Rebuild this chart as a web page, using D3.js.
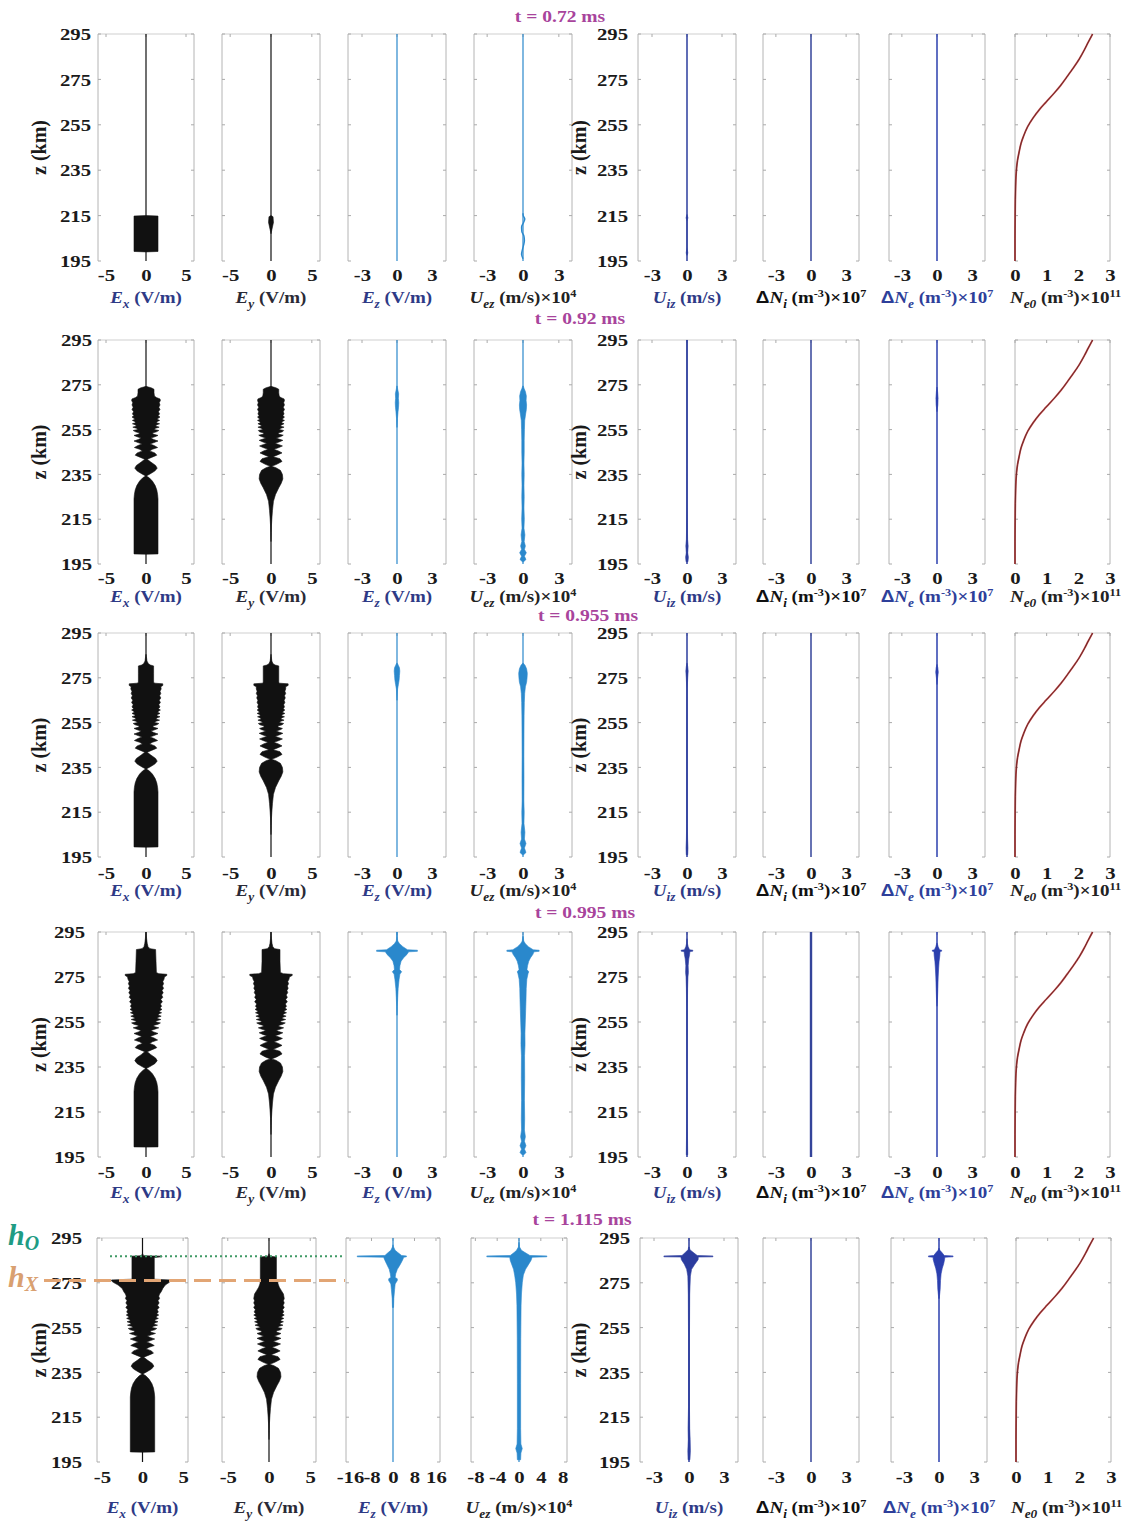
<!DOCTYPE html>
<html>
<head>
<meta charset="utf-8">
<script src="https://cdn.jsdelivr.net/npm/d3@7"></script>
<style>
  body { margin: 0; background: #fff; }
  svg { display: block; }
  text { font-family: "Liberation Serif", "Times New Roman", serif; font-weight: bold; }
</style>
</head>
<body>
<svg id="fig" width="1132" height="1521"></svg>
<script>
// ---------------------------------------------------------------
// Altitude profiles of the wave fields and plasma response at five
// snapshot times.  Envelopes are [z (km), amplitude] (symmetric)
// or [z (km), low, high] (asymmetric).
// ---------------------------------------------------------------
const zTicks = [195, 215, 235, 255, 275, 295];
const zRange = [195, 295];
const snapshotTimes = ["t = 0.72 ms", "t = 0.92 ms", "t = 0.955 ms", "t = 0.995 ms", "t = 1.115 ms"];
const fieldTicks = [-5, 0, 5];
const smallTicks = [-3, 0, 3];
const ezTicksLate = [-16, -8, 0, 8, 16];
const uezTicksLate = [-8, -4, 0, 4, 8];
const ne0Ticks = [0, 1, 2, 3];
const hO = 286.8;   // O-mode reflection height (km)
const hX = 276;     // X-mode reflection height (km)

// background electron density, 10^11 m^-3
const ne0Profile = [[195,0.0],[205,0.0],[215,0.005],[222,0.01],[228,0.02],[232,0.03],[236,0.05],[239.4,0.08],[243,0.13],[246.8,0.19],[250,0.27],[254.2,0.40],[258,0.57],[261.7,0.77],[265,0.98],[269,1.24],[272.5,1.45],[276.5,1.66],[280,1.84],[284,2.03],[288,2.19],[291.3,2.31],[295,2.45]];

// ---- Ex envelope (V/m) ----
const exRow1 = [[199,0],[199.2,1.5],[214.8,1.5],[215,0]];
const exTail = [[199.4,0],[199.5,1.5],[224,1.5],[226,1.45],[228,1.35],[230,1.15],[232,0.8],[233.5,0.4],[234.3,0.04],[235.2,0.5],[236.5,1.1],[237.8,1.4],[239,1.2],[240.5,0.6],[241.8,0.15],[242.6,0.7],[243.6,1.35],[244.6,1.1],[245.5,0.45],[246.2,0.8],[247,1.45],[247.9,1.0],[248.6,0.5],[249.2,1.0],[249.9,1.5],[250.6,0.95],[251.2,0.6],[251.8,1.1]];
const exHead2 = [[252.4,1.5],[253,0.9],[253.5,0.8],[254,1.3],[254.6,1.6],[255.1,1.0],[255.6,1.2],[256.1,1.65],[256.6,1.2],[257.1,1.3],[257.6,1.7],[258.1,1.3],[258.6,1.4],[259.1,1.7],[259.6,1.4],[260.1,1.5],[260.6,1.75],[261.2,1.5],[262,1.7],[263,1.55],[264,1.75],[265,1.6],[266,1.75],[267,1.65],[268,1.8],[268.7,1.75],[269.3,1.3],[270,1.05],[271.5,1.0],[273,1.0],[273.6,0.7],[274,0.3],[274.3,0]];
const exHead3 = [[252.4,1.5],[253,0.9],[253.5,0.85],[254,1.35],[254.6,1.6],[255.1,1.05],[255.6,1.25],[256.1,1.7],[256.6,1.25],[257.1,1.35],[257.6,1.75],[258.1,1.35],[258.6,1.45],[259.1,1.75],[259.6,1.45],[260.1,1.55],[260.6,1.8],[261.2,1.55],[262,1.75],[263,1.6],[264,1.8],[265,1.65],[266,1.85],[267,1.7],[268,1.85],[269,1.75],[270,1.9],[271,1.85],[271.6,2.1],[272.3,2.1],[272.6,1.1],[273,0.95],[277,0.95],[280.3,0.95],[280.7,0.55],[281.3,0.3],[282.5,0.12],[284.5,0.05],[285.5,0]];
const exHead4 = [[252.4,1.6],[253,1.0],[253.5,0.95],[254,1.5],[254.6,1.8],[255.1,1.2],[255.6,1.35],[256.1,1.85],[256.6,1.4],[257.1,1.5],[257.6,1.9],[258.1,1.5],[258.6,1.6],[259.1,1.95],[259.6,1.65],[260.1,1.75],[260.6,2.0],[261.2,1.75],[262,1.95],[263,1.8],[264,2.05],[265,1.85],[266,2.1],[267,1.95],[268,2.15],[269,2.0],[270,2.2],[271,2.05],[272,2.2],[273,2.1],[274,2.25],[275,2.3],[275.7,2.6],[276.2,2.6],[276.5,1.6],[277,1.3],[282,1.25],[287.2,1.2],[287.6,0.5],[288.5,0.25],[290,0.15],[292,0.08],[294,0.03],[295,0]];
const exHead5 = [[252.4,1.6],[253,1.0],[253.5,0.95],[254,1.5],[254.6,1.75],[255.1,1.15],[255.6,1.35],[256.1,1.85],[256.6,1.4],[257.1,1.5],[257.6,1.9],[258.1,1.5],[258.6,1.6],[259.1,1.95],[259.6,1.65],[260.1,1.75],[260.6,2.0],[261.2,1.75],[262,1.95],[263,1.8],[264,2.05],[265,1.85],[266,2.05],[267,1.9],[268,2.1],[269,2.0],[270,2.1],[271,-2.3,2.3],[272.5,-2.5,2.5],[274,-3.0,2.8],[275.2,-3.6,3.3],[275.8,-3.8,3.4],[276.3,-3.8,3.4],[276.6,-1.3,1.45],[286.3,-1.3,1.45],[286.6,-1.3,2.4],[286.9,-1.3,2.4],[287.1,-0.15,0.15],[288,0]];

// ---- Ey envelope (V/m) ----
const eyRow1 = [[207,0],[209,0.12],[212,0.3],[214.5,0.25],[215,0]];
const eyTail = [[205,0],[209,0.03],[212,0.05],[215,0.1],[219,0.18],[223,0.3],[226,0.55],[229,0.95],[231,1.25],[233,1.45],[235,1.4],[236.8,1.15],[238,0.6],[238.6,0.08],[239.5,0.7],[240.8,1.35],[242,1.1],[242.9,0.25],[243.7,0.8],[244.6,1.35],[245.5,0.9],[246.2,0.35],[246.9,0.9],[247.7,1.4],[248.4,0.9],[248.9,0.5],[249.5,1.0],[250.2,1.45],[250.8,0.95],[251.3,0.65],[251.9,1.2]];
const eyHead2 = [[252.5,1.5],[253,0.9],[253.5,0.9],[254,1.4],[254.6,1.55],[255.1,1.0],[255.6,1.2],[256.1,1.6],[256.6,1.15],[257.1,1.3],[257.6,1.6],[258.1,1.3],[258.6,1.4],[259.1,1.65],[259.6,1.35],[260.1,1.5],[260.6,1.65],[261.2,1.45],[262,1.6],[263,1.5],[264,1.65],[265,1.5],[266,1.65],[267,1.55],[268,1.65],[268.7,1.6],[269.3,1.2],[270,1.0],[271.5,0.95],[273,0.95],[273.6,0.65],[274,0.3],[274.3,0]];
const eyHead3 = [[252.4,1.4],[253,0.85],[253.5,0.85],[254,1.35],[254.6,1.55],[255.1,1.0],[255.6,1.2],[256.1,1.6],[256.6,1.2],[257.1,1.3],[257.6,1.65],[258.1,1.3],[258.6,1.4],[259.1,1.7],[259.6,1.4],[260.1,1.5],[260.6,1.7],[261.2,1.5],[262,1.65],[263,1.55],[264,1.7],[265,1.6],[266,1.75],[267,1.65],[268,1.8],[269,1.7],[270,1.8],[271,1.8],[271.6,2.1],[272.3,2.1],[272.6,1.05],[273,0.95],[280.3,0.95],[280.7,0.5],[281.3,0.25],[282.5,0.1],[284.5,0.04],[285.5,0]];
const eyHead4 = [[252.4,1.55],[253,0.95],[253.5,0.95],[254,1.45],[254.6,1.75],[255.1,1.1],[255.6,1.3],[256.1,1.8],[256.6,1.35],[257.1,1.45],[257.6,1.85],[258.1,1.45],[258.6,1.55],[259.1,1.9],[259.6,1.6],[260.1,1.7],[260.6,1.95],[261.2,1.7],[262,1.9],[263,1.75],[264,2.0],[265,1.8],[266,2.0],[267,1.85],[268,2.05],[269,1.95],[270,2.1],[271,2.0],[272,2.15],[273,2.05],[274,2.2],[275,2.25],[275.7,2.6],[276.2,2.6],[276.5,1.5],[277,1.15],[282,1.1],[287.2,1.1],[287.6,0.45],[288.5,0.22],[290,0.12],[292,0.06],[294,0.02],[295,0]];
const eyHead5 = [[252.4,1.45],[253,0.9],[253.5,0.9],[254,1.4],[254.6,1.6],[255.1,1.05],[255.6,1.25],[256.1,1.7],[256.6,1.3],[257.1,1.4],[257.6,1.75],[258.1,1.4],[258.6,1.5],[259.1,1.8],[259.6,1.5],[260.1,1.6],[260.6,1.85],[261.2,1.6],[262,1.8],[263,1.65],[264,1.85],[265,1.7],[266,1.85],[267,1.75],[268,1.85],[269,1.8],[270,1.75],[271.5,1.5],[273,1.25],[274.5,1.1],[275.8,1.05],[276.3,-1.05,0.9],[286.5,-1.05,0.9],[286.9,-0.12,0.12],[288,0]];

// ---- Ez envelope (V/m) ----
const ezRow2 = [[256,0.01],[260,0.04],[263,0.09],[265,0.13],[267,0.15],[269,0.12],[271,0.14],[273,0.06],[274.5,0.01]];
const ezRow3 = [[265,0.01],[270,0.05],[272,0.12],[274,0.18],[276,0.21],[278,0.24],[279.5,0.21],[280.5,0.12],[281.5,0.03]];
const ezRow4 = [[258,0.01],[262,0.03],[266,0.06],[270,0.1],[274,0.18],[276.3,0.25],[277.3,0.4],[278.3,0.22],[280,0.25],[282,0.35],[283.5,0.55],[285,0.85],[286.2,1.0],[286.4,1.75],[286.9,1.75],[287.1,0.9],[288.5,0.5],[289.8,0.22],[291,0.06],[293,0.02],[295,0.01]];
const ezRow5 = [[264,-0.2,0.2],[268,-0.3,0.3],[272,-0.6,0.6],[274.5,-0.8,0.8],[276,-1.6,1.6],[276.8,-1.6,1.6],[277.4,-0.8,0.8],[279,-1.0,1.0],[281,-1.4,1.6],[283,-2.2,2.6],[285,-3.0,3.5],[286.4,-3.5,4.0],[286.6,-13.3,5.0],[287,-13.3,5.0],[287.2,-3.0,3.2],[288.5,-1.8,1.8],[289.5,-0.8,0.8],[291,-0.2,0.2],[292,0,0]];

// ---- electron velocity Uez (10^4 m/s) ----
const uezRow1 = [[196,0],[198,-0.12],[200,-0.05],[202,0.05],[204,0.12],[206,0.08],[208,-0.1],[210,-0.12],[212,0.05],[213.5,0.15],[215,0.02],[216,0]];
const uezRow2 = [[196,0.05],[197,0.25],[198.5,0.12],[200,0.28],[201.5,0.12],[203,0.2],[205,0.1],[208,0.16],[211,0.08],[215,0.11],[220,0.08],[225,0.1],[230,0.08],[235,0.1],[240,0.08],[245,0.1],[250,0.1],[255,0.12],[259,0.14],[262,0.22],[264,0.28],[266,0.3],[268,0.26],[270,0.28],[272,0.2],[273.5,0.08],[274.5,0.02]];
const uezRow3 = [[196,0.05],[197,0.25],[199,0.12],[201,0.25],[203,0.12],[206,0.16],[210,0.08],[215,0.1],[220,0.07],[230,0.08],[240,0.07],[250,0.08],[258,0.09],[264,0.11],[268,0.14],[271,0.2],[273,0.3],[275,0.34],[277,0.36],[279,0.3],[280.5,0.18],[281.5,0.03]];
const uezRow4 = [[196,0.08],[197,0.25],[198.5,0.12],[200,0.25],[202,0.12],[204,0.2],[207,0.12],[212,0.14],[220,0.12],[230,0.14],[240,0.13],[245,0.17],[250,0.16],[255,0.19],[260,0.22],[265,0.25],[270,0.27],[274,0.32],[276.5,0.42],[277.3,0.48],[278.3,0.33],[280,0.38],[282,0.48],[283.5,0.62],[285,0.82],[286.2,0.92],[286.4,1.35],[286.9,1.35],[287.1,0.85],[288.5,0.45],[289.8,0.2],[291,0.06],[293,0.02]];
const uezRow5 = [[196,-0.3,0.3],[199,-0.35,0.35],[201,-0.6,0.6],[203,-0.35,0.35],[210,-0.3,0.3],[230,-0.3,0.3],[250,-0.32,0.32],[265,-0.38,0.38],[270,-0.45,0.45],[275,-0.6,0.6],[278.5,-0.8,0.8],[281,-1.0,1.2],[283,-1.3,1.7],[285,-1.6,2.2],[286.4,-1.7,2.4],[286.6,-5.9,5.1],[287,-5.9,5.1],[287.2,-1.6,2.0],[288.5,-0.9,1.1],[289.5,-0.45,0.45],[291,-0.1,0.1],[293,-0.03,0.03]];

// ---- ion velocity Uiz (m/s) ----
const uizRow1 = [[197.5,0],[198.5,0.07],[200,0.03],[201,0],[212.5,0],[214,0.08],[215.5,0]];
const uizRow2 = [[196,0.08],[198,0.12],[200,0.06],[203,0.1],[206,0.05],[210,0.04],[220,0.02],[240,0.01],[295,0.01]];
const uizRow3 = [[196,0.06],[199,0.08],[203,0.05],[210,0.03],[270,0.02],[275,0.06],[278,0.1],[280,0.06],[281.5,0.01]];
const uizRow4 = [[196,0.06],[200,0.05],[210,0.03],[230,0.02],[260,0.03],[270,0.05],[275,0.08],[277,0.12],[280,0.1],[283,0.15],[285,0.22],[286.3,0.25],[286.5,0.5],[286.9,0.5],[287.1,0.22],[288.5,0.1],[290,0.03],[292,0.01]];
const uizRow5 = [[196,-0.08,0.08],[200,-0.1,0.12],[205,-0.06,0.1],[210,-0.08,0.06],[220,-0.04,0.04],[250,-0.04,0.04],[270,-0.06,0.06],[278,-0.1,0.12],[281,-0.2,0.22],[283.3,-0.4,0.5],[285.3,-0.65,0.78],[286.5,-0.7,0.8],[286.6,-2.15,2.05],[287,-2.15,2.05],[287.2,-0.6,0.7],[288.6,-0.3,0.35],[289.8,-0.08,0.08],[291,-0.02,0.02]];

// ---- electron density perturbation (10^7 m^-3) ----
const dneRow2 = [[263,0],[266,0.07],[269,0.09],[272,0.05],[274,0]];
const dneRow3 = [[272,0],[275,0.05],[277.5,0.11],[279.5,0.07],[281,0]];
const dneRow4 = [[262,0],[265,0.04],[270,0.07],[275,0.1],[279,0.14],[282,0.18],[284.5,0.24],[286.3,0.26],[286.5,0.4],[286.9,0.4],[287.1,0.22],[288.5,0.1],[290,0.02]];
const dneRow5 = [[268,-0.02,0.02],[272,-0.1,0.1],[276,-0.13,0.13],[279,-0.18,0.18],[281.5,-0.28,0.28],[283.5,-0.4,0.4],[285.5,-0.5,0.48],[286.4,-0.5,0.5],[286.6,-0.9,1.2],[287,-0.9,1.2],[287.2,-0.45,0.45],[288.5,-0.25,0.25],[289.5,-0.08,0.08],[290.5,0,0]];

const exProfiles = [exRow1, exTail.concat(exHead2), exTail.concat(exHead3), exTail.concat(exHead4), exTail.concat(exHead5)];
const eyProfiles = [eyRow1, eyTail.concat(eyHead2), eyTail.concat(eyHead3), eyTail.concat(eyHead4), eyTail.concat(eyHead5)];
const ezProfiles = [[], ezRow2, ezRow3, ezRow4, ezRow5];
const uezProfiles = [[], uezRow2, uezRow3, uezRow4, uezRow5];
const uizProfiles = [uizRow1, uizRow2, uizRow3, uizRow4, uizRow5];
const dniProfiles = [[], [], [], [], []];
const dneProfiles = [[], dneRow2, dneRow3, dneRow4, dneRow5];

// ---------------------------------------------------------------
// layout
// ---------------------------------------------------------------
const svg = d3.select("#fig");
const rowTop = [34, 340, 633, 932, 1238];
const rowBot = [261, 564, 857, 1157, 1462];
const tickDy = [20, 20, 22, 21, 21];
const labelDy = [42, 38, 39, 41, 51];
const titleY = [22, 324, 621, 918, 1225];
const titleX = [560, 580, 588, 585, 582];
const leftPad = [7, 6, 6, 13, 15];

const boxesEarly = [[98,194],[222,320],[348,446],[474,572],[638,736],[763,859],[889,985],[1015,1110]];
const boxesLate  = [[97,188],[222,316],[346,440],[471,567],[640,738],[763,859],[891,987],[1016,1111]];
const domEarly = [[-6,6],[-6,6],[-4.2,4.2],[-4.1,4.1],[-4.2,4.2],[-4.1,4.1],[-4.1,4.1],[0,3]];
const domLate  = [[-5.6,5.6],[-5.7,5.7],[-17.5,17.5],[-8.8,8.8],[-4.2,4.2],[-4.1,4.1],[-4.1,4.1],[0,3]];

const traceColor = ["#111", "#111", "#2a88cc", "#2a88cc", "#2b3c9e", "#34449a", "#2b3fae", "#9c3535"];
const labelColor = ["#2e3a86", "#2a2a36", "#2e3a86", "#222", "#2e3a86", "#111", "#2e3f9a", "#222"];

const axisTitles = [
  [{t:"E",it:1},{t:"x",it:1,sub:1},{t:" (V/m)"}],
  [{t:"E",it:1},{t:"y",it:1,sub:1},{t:" (V/m)"}],
  [{t:"E",it:1},{t:"z",it:1,sub:1},{t:" (V/m)"}],
  [{t:"U",it:1},{t:"ez",it:1,sub:1},{t:" (m/s)×10"},{t:"4",sup:1}],
  [{t:"U",it:1},{t:"iz",it:1,sub:1},{t:" (m/s)"}],
  [{t:"Δ",sans:1},{t:"N",it:1},{t:"i",it:1,sub:1},{t:" (m"},{t:"-3",sup:1},{t:")×10"},{t:"7",sup:1}],
  [{t:"Δ",sans:1},{t:"N",it:1},{t:"e",it:1,sub:1},{t:" (m"},{t:"-3",sup:1},{t:")×10"},{t:"7",sup:1}],
  [{t:"N",it:1},{t:"e0",it:1,sub:1},{t:" (m"},{t:"-3",sup:1},{t:")×10"},{t:"11",sup:1}]
];

const TICK_FS = 17, TICK_SX = 1.22;
const LAB_FS = 17, LAB_SX = 1.12;

function richText(sel, parts, size) {
  let shift = 0;
  parts.forEach(p => {
    let target = 0, fs = size;
    if (p.sub) { target = size * 0.3; fs = size * 0.7; }
    if (p.sup) { target = -size * 0.36; fs = size * 0.64; }
    const ts = sel.append("tspan").text(p.t)
      .attr("dy", (target - shift).toFixed(2))
      .attr("font-size", fs.toFixed(1));
    if (p.it) ts.attr("font-style", "italic");
    if (p.sans) ts.attr("font-family", "'Liberation Sans', Arial, sans-serif");
    shift = target;
  });
}

const lowOf = d => d.length > 2 ? d[1] : -d[1];
const highOf = d => d.length > 2 ? d[2] : d[1];

function drawRow(r) {
  const boxes = r === 4 ? boxesLate : boxesEarly;
  const doms = r === 4 ? domLate : domEarly;
  const y = d3.scaleLinear().domain(zRange).range([rowBot[r], rowTop[r]]);
  const row = svg.append("g").attr("class", "row");

  const profiles = [exProfiles[r], eyProfiles[r], ezProfiles[r], uezProfiles[r], uizProfiles[r], dniProfiles[r], dneProfiles[r]];

  for (let p = 0; p < 8; p++) {
    const [x0, x1] = boxes[p];
    const x = d3.scaleLinear().domain(doms[p]).range([x0, x1]);
    const g = row.append("g");

    // frame: top, left and right edges
    g.append("line").attr("x1", x0).attr("x2", x1).attr("y1", y(295)).attr("y2", y(295))
      .attr("stroke", "#cfcfcf").attr("stroke-width", 1);
    [x0, x1].forEach(xx => g.append("line").attr("x1", xx).attr("x2", xx)
      .attr("y1", y(295)).attr("y2", y(195)).attr("stroke", "#b4b4b4").attr("stroke-width", 1));
    // small inner ticks
    zTicks.forEach(t => {
      g.append("line").attr("x1", x0).attr("x2", x0 + 3).attr("y1", y(t)).attr("y2", y(t)).attr("stroke", "#aaa");
      g.append("line").attr("x1", x1 - 3).attr("x2", x1).attr("y1", y(t)).attr("y2", y(t)).attr("stroke", "#aaa");
    });

    let ticks = (p < 2) ? fieldTicks : (p === 7 ? ne0Ticks : smallTicks);
    if (r === 4 && p === 2) ticks = ezTicksLate;
    if (r === 4 && p === 3) ticks = uezTicksLate;

    // x axis (tick labels only)
    const ax = g.append("g").attr("transform", `translate(0,${rowBot[r] + tickDy[r]})`)
      .call(d3.axisBottom(x).tickValues(ticks).tickSize(0).tickPadding(0).tickFormat(d => String(d)));
    ax.select(".domain").remove();
    ax.selectAll("text").attr("dy", null).attr("y", 0)
      .attr("font-size", TICK_FS).attr("font-family", null).attr("fill", "#1a1a1a")
      .attr("transform", `scale(${TICK_SX},1)`);
    ticks.forEach(t => g.append("line").attr("x1", x(t)).attr("x2", x(t))
      .attr("y1", y(295)).attr("y2", y(295) + 3).attr("stroke", "#aaa"));

    // axis title
    const lt = g.append("text")
      .attr("transform", `translate(${(x0 + x1) / 2 + (p === 7 ? 3 : 0)},${rowBot[r] + labelDy[r]}) scale(${LAB_SX},1)`)
      .attr("text-anchor", "middle").attr("fill", labelColor[p]).attr("font-size", LAB_FS);
    richText(lt, axisTitles[p], LAB_FS);

    if (p === 7) {
      g.append("path").datum(ne0Profile)
        .attr("fill", "none").attr("stroke", "#c04848").attr("stroke-width", 1.8)
        .attr("d", d3.line().x(d => x(d[1])).y(d => y(d[0])).curve(d3.curveMonotoneY));
      g.append("path").datum(ne0Profile)
        .attr("fill", "none").attr("stroke", "#4a1e1e").attr("stroke-width", 0.7)
        .attr("d", d3.line().x(d => x(d[1])).y(d => y(d[0])).curve(d3.curveMonotoneY));
      continue;
    }

    const col = traceColor[p];
    // zero trace over the full altitude span
    g.append("line").attr("x1", x(0)).attr("x2", x(0)).attr("y1", y(zRange[0])).attr("y2", y(zRange[1]))
      .attr("stroke", col).attr("stroke-width", (p === 5 && r === 3) ? 2.4 : (p >= 4 ? 1.5 : 1.2));

    const env = profiles[p];
    if (env.length) {
      const area = d3.area().y(d => y(d[0])).x0(d => x(lowOf(d))).x1(d => x(highOf(d)));
      g.append("path").datum(env).attr("d", area)
        .attr("fill", col).attr("stroke", col).attr("stroke-width", 0.6).attr("stroke-linejoin", "round");
    }
    if (r === 0 && p === 3) {
      g.append("path").datum(uezRow1).attr("fill", "none").attr("stroke", col).attr("stroke-width", 1.4)
        .attr("d", d3.line().x(d => x(d[1])).y(d => y(d[0])).curve(d3.curveMonotoneY));
    }
  }

  // altitude axes (left panel and Uiz panel)
  [[0, leftPad[r]], [4, 10]].forEach(([p, pad]) => {
    const x0 = boxes[p][0];
    const ay = row.append("g").attr("transform", `translate(${x0},0)`)
      .call(d3.axisLeft(y).tickValues(zTicks).tickSize(0).tickPadding(0).tickFormat(d => String(d)));
    ay.select(".domain").remove();
    ay.selectAll("text").attr("x", 0).attr("dy", "0.34em")
      .attr("font-size", TICK_FS).attr("font-family", null).attr("fill", "#1a1a1a")
      .attr("transform", `translate(${-pad},0) scale(${TICK_SX},1)`);
  });
  [46, 586].forEach(bx => {
    row.append("text").attr("transform", `translate(${bx},${(rowTop[r] + rowBot[r]) / 2}) rotate(-90)`)
      .attr("text-anchor", "middle").attr("font-size", 20).attr("fill", "#1a1a1a").text("z (km)");
  });

  // snapshot time
  row.append("text").attr("transform", `translate(${titleX[r]},${titleY[r]}) scale(1.15,1)`)
    .attr("text-anchor", "middle").attr("font-size", 17).attr("fill", "#a8449c").text(snapshotTimes[r]);

  // reflection heights in the last snapshot
  if (r === 4) {
    row.append("line").attr("x1", 110).attr("x2", 345).attr("y1", y(hO)).attr("y2", y(hO))
      .attr("stroke", "#3f9a66").attr("stroke-width", 2).attr("stroke-dasharray", "2,3");
    row.append("line").attr("x1", 44).attr("x2", 345).attr("y1", y(hX)).attr("y2", y(hX))
      .attr("stroke", "#e2a574").attr("stroke-width", 3).attr("stroke-dasharray", "17,8");
    const lO = row.append("text").attr("x", 8).attr("y", y(hO) - 11).attr("font-size", 30)
      .attr("font-style", "italic").attr("fill", "#1f9c84");
    lO.append("tspan").text("h");
    lO.append("tspan").text("O").attr("font-size", 20).attr("dy", 5);
    const lX = row.append("text").attr("x", 8).attr("y", y(hX) + 6).attr("font-size", 30)
      .attr("font-style", "italic").attr("fill", "#d9a070");
    lX.append("tspan").text("h");
    lX.append("tspan").text("X").attr("font-size", 20).attr("dy", 4);
  }
}

for (let r = 0; r < 5; r++) drawRow(r);
</script>
</body>
</html>
